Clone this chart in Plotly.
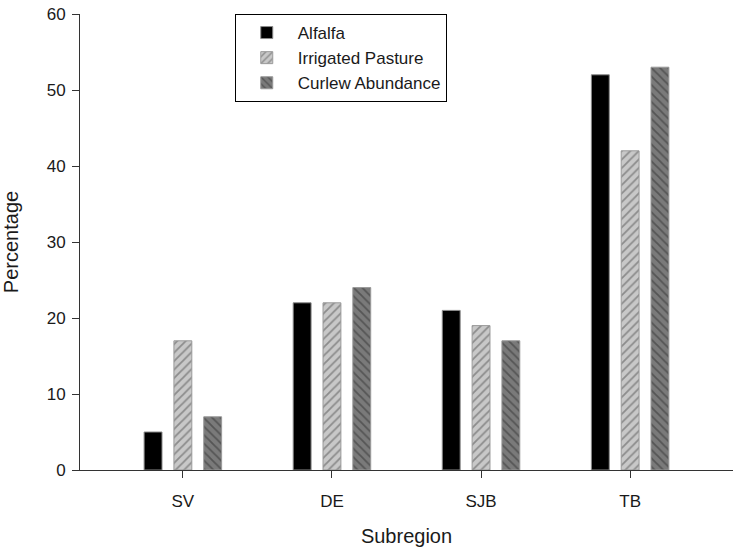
import plotly.graph_objects as go

categories = ["SV", "DE", "SJB", "TB"]
alfalfa = [5, 22, 21, 52]
irrigated_pasture = [17, 22, 19, 42]
curlew_abundance = [7, 24, 17, 53]
y_ticks = [0, 10, 20, 30, 40, 50, 60]

FONT = "Liberation Sans, Arial, sans-serif"
xpos = list(range(len(categories)))

fig = go.Figure()
fig.add_trace(go.Bar(
    name="Alfalfa", x=xpos, y=alfalfa,
    marker=dict(color="#000000", line=dict(color="#8a8a8a", width=1)),
))
fig.add_trace(go.Bar(
    name="Irrigated Pasture", x=xpos, y=irrigated_pasture,
    marker=dict(color="#c4c4c4", line=dict(color="#9a9a9a", width=1),
                pattern=dict(shape="/", fgcolor="#8c8c8c", bgcolor="#c8c8c8",
                             size=6, solidity=0.3, fillmode="replace")),
))
fig.add_trace(go.Bar(
    name="Curlew Abundance", x=xpos, y=curlew_abundance,
    marker=dict(color="#6a6a6a", line=dict(color="#999999", width=1),
                pattern=dict(shape="\\", fgcolor="#555555", bgcolor="#7a7a7a",
                             size=6, solidity=0.3, fillmode="replace")),
))

fig.update_layout(
    width=733, height=547,
    margin=dict(l=80, r=0, t=14, b=77, autoexpand=False),
    barmode="group", bargap=0.4, bargroupgap=0.4,
    plot_bgcolor="white", paper_bgcolor="white",
    font=dict(family=FONT, size=17, color="#1a1a1a"),
    showlegend=True,
    legend=dict(
        x=0.237, y=1.0, xanchor="left", yanchor="top",
        bordercolor="#000000", borderwidth=1, bgcolor="white",
        font=dict(family=FONT, size=17, color="#1a1a1a"),
        itemwidth=52,
    ),
    xaxis=dict(
        range=[-0.69, 3.69], tickmode="array", tickvals=xpos, ticktext=categories,
        showline=True, linecolor="#333333", linewidth=1,
        ticks="outside", ticklen=7, tickcolor="#333333", ticklabelstandoff=9,
        showgrid=False, zeroline=False, automargin=False,
        title=dict(text="Subregion", font=dict(size=20), standoff=35),
    ),
    yaxis=dict(
        range=[0, 60], tickmode="array", tickvals=y_ticks,
        showline=True, linecolor="#333333", linewidth=1,
        ticks="outside", ticklen=7, tickcolor="#333333", ticklabelstandoff=3,
        showgrid=False, zeroline=False, automargin=False,
        title=dict(text="Percentage", font=dict(size=20), standoff=22),
    ),
)

fig.write_html("out.html", config={"displayModeBar": False},
               post_script="document.body.style.margin='0';")
